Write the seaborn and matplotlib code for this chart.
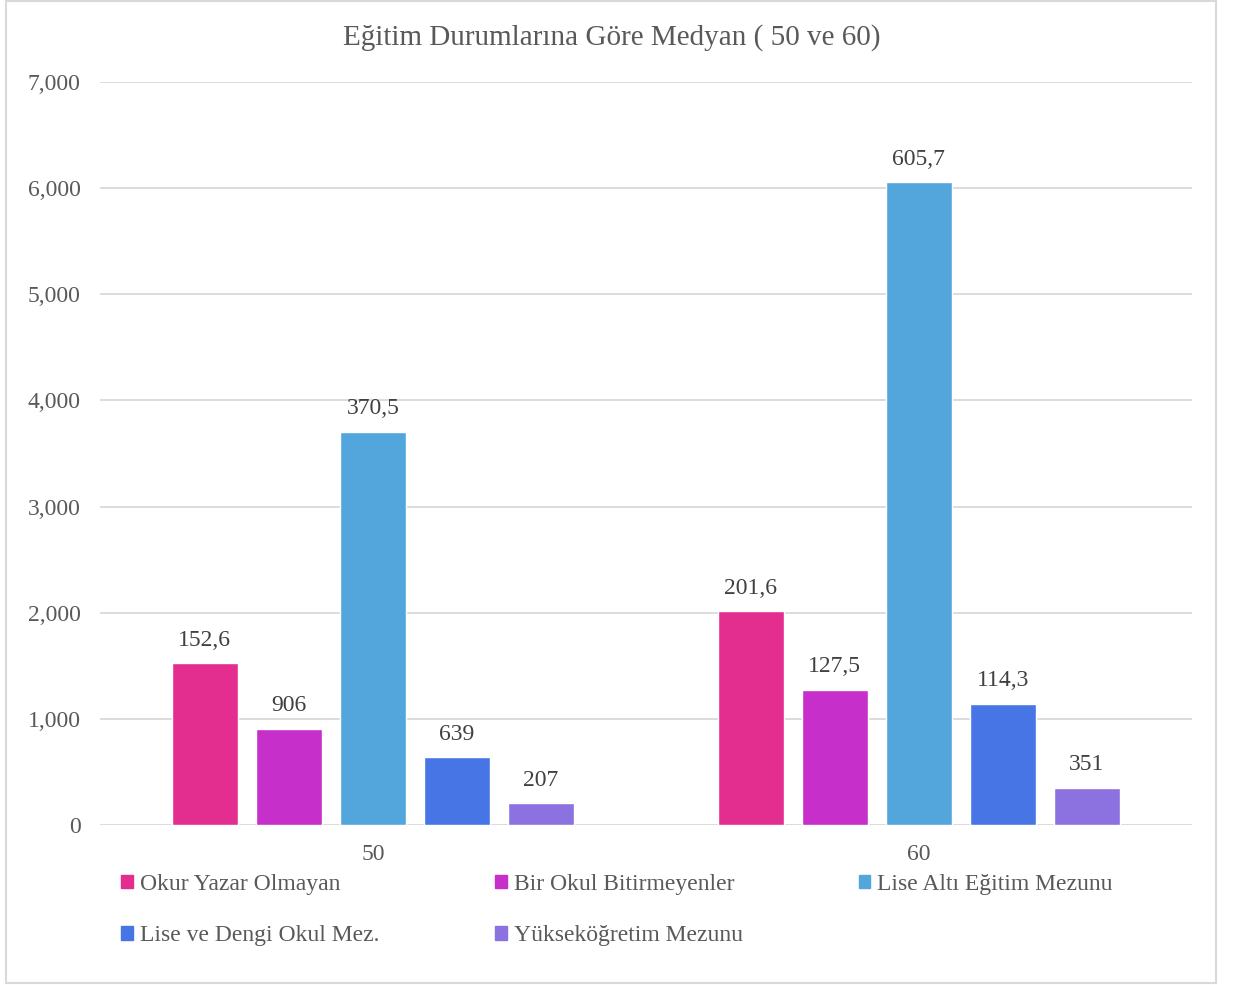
import pandas as pd
import matplotlib.pyplot as plt
import seaborn as sns
from matplotlib.patches import Rectangle
from matplotlib.ticker import FuncFormatter

# -------------------------------
# DATA
# -------------------------------
groups = ["50", "60"]
categories = ["Okur Yazar Olmayan", "Bir Okul Bitirmeyenler", "Lise Altı Eğitim Mezunu",
              "Lise ve Dengi Okul Mez.", "Yükseköğretim Mezunu"]
values_50 = [1526, 906, 3705, 639, 207]
values_60 = [2016, 1275, 6057, 1143, 351]
labels_50 = ["152,6", "906", "370,5", "639", "207"]
labels_60 = ["201,6", "127,5", "605,7", "114,3", "351"]
colors = ["#E32D8F", "#C62FC9", "#52A6DC", "#4875E5", "#8C72E0"]

rows = []
for cat, v50, v60 in zip(categories, values_50, values_60):
    rows.append({"Yaş": "50", "Eğitim": cat, "Medyan": v50})
    rows.append({"Yaş": "60", "Eğitim": cat, "Medyan": v60})
df = pd.DataFrame(rows)

# -------------------------------
# PLOT
# -------------------------------
sns.set_style("white")
plt.rcParams["font.family"] = ["Liberation Serif", "DejaVu Serif"]

fig = plt.figure(figsize=(12.35, 9.85), dpi=100)
ax = fig.add_axes([0.081, 0.1624, 0.884, 0.7544])

sns.barplot(data=df, x="Yaş", y="Medyan", hue="Eğitim", order=groups,
            hue_order=categories, palette=colors, width=0.77, gap=0.21,
            saturation=1, ax=ax, legend=False)

# value labels
for i, cont in enumerate(ax.containers):
    ax.bar_label(cont, labels=[labels_50[i], labels_60[i]], padding=9,
                 fontsize=17, color="#404040")

ax.set_ylim(0, 7000)
ax.set_xlim(-0.5, 1.5)
ax.set_yticks(range(0, 7001, 1000))
ax.yaxis.set_major_formatter(FuncFormatter(lambda v, p: f"{int(v):,}"))
ax.grid(axis="y", color="#d9d9d9", linewidth=1.3)
ax.set_axisbelow(True)
for s in ax.spines.values():
    s.set_visible(False)
ax.tick_params(axis="both", length=0, labelsize=17, labelcolor="#595959")
ax.tick_params(axis="y", pad=14)
ax.tick_params(axis="x", pad=14)
ax.set_xlabel("")
ax.set_ylabel("")

fig.text(0.4955, 0.962, "Eğitim Durumlarına Göre Medyan ( 50 ve 60)",
         ha="center", va="center", fontsize=21, color="#595959")

# legend in row order (column-major fill)
handles = [Rectangle((0, 0), 1, 1, color=c) for c in colors]
order = [0, 3, 1, 4, 2]
fig.legend([handles[i] for i in order], [categories[i] for i in order],
           loc="upper left", bbox_to_anchor=(0.098, 0.113), ncol=3,
           frameon=False, fontsize=17, labelcolor="#595959",
           handlelength=0.5, handleheight=0.5, handletextpad=0.3,
           columnspacing=4.9, labelspacing=1.3, borderpad=0, borderaxespad=0)

# outer chart border
fig.patches.append(Rectangle((0.005, 0.002), 0.98, 0.997, transform=fig.transFigure,
                             fill=False, edgecolor="#d9d9d9", linewidth=1.5))

plt.savefig("out.png", dpi=100)
plt.close()
